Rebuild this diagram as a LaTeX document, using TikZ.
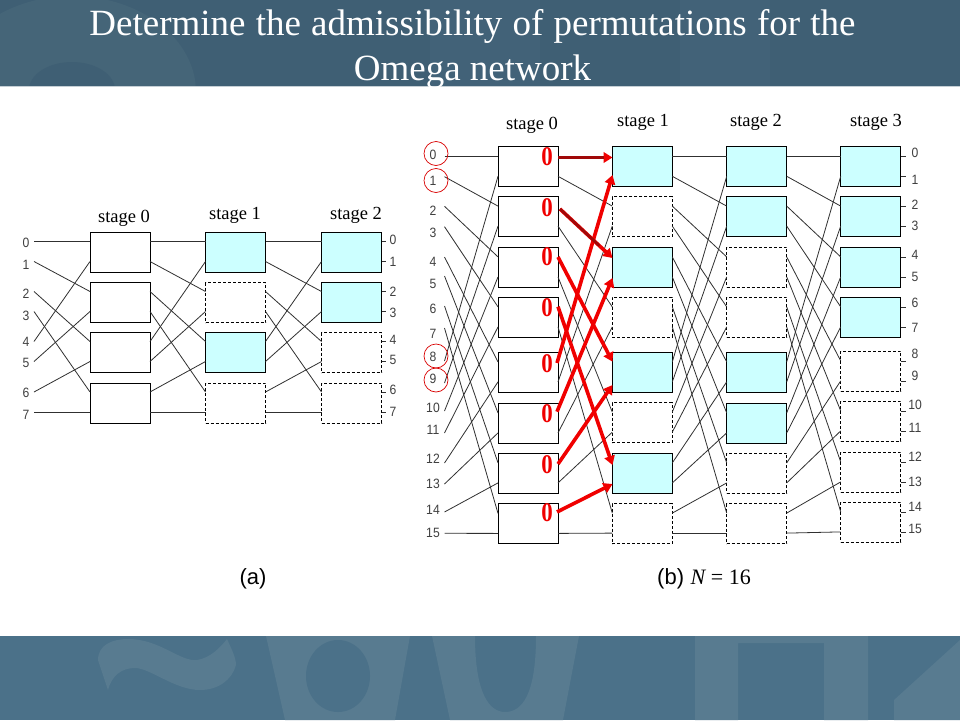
\documentclass[tikz,border=0pt]{standalone}
\usepackage{graphicx}
\usepackage{fontspec}
\setmainfont{Liberation Serif}
\newfontfamily\arialf{Liberation Sans}
\usetikzlibrary{arrows.meta,calc}
\definecolor{hdrbase}{HTML}{3F5F74}
\definecolor{hdrlight}{HTML}{456578}
\definecolor{hdrband}{HTML}{426278}
\definecolor{ftrbase}{HTML}{4B7189}
\definecolor{ftrlight}{HTML}{587B90}
\definecolor{cellcyan}{HTML}{CCFFFF}
\definecolor{wirecol}{HTML}{303030}
\definecolor{redarrow}{HTML}{F00000}
\definecolor{darkarrow}{HTML}{A00808}
\newcommand{\narrowtxt}[1]{\scalebox{0.9}[1]{#1}}
\newcommand{\zerotxt}{\scalebox{0.85}[1]{0}}
\tikzset{
  solidbox/.style={draw=black,line width=0.9pt,fill=white,minimum width=60pt,minimum height=40pt,inner sep=0pt,outer sep=0pt},
  cyanbox/.style={solidbox,fill=cellcyan},
  dashbox/.style={solidbox,dash pattern=on 3pt off 2pt},
  wire/.style={draw=wirecol,line width=0.8pt},
  numlabel/.style={font=\arialf\fontsize{13.5}{14}\selectfont,text=black!75,inner sep=0pt},
  stagelabel/.style={font=\fontsize{18.5}{19}\selectfont,text=black,inner sep=0pt,anchor=base},
  redarr/.style={draw=redarrow,line width=3.6pt,-{Triangle[length=9pt,width=10.5pt]}},
  darkarr/.style={draw=darkarrow,line width=2.6pt},
  redzero/.style={font=\bfseries\fontsize{27}{28}\selectfont,text=redarrow,inner sep=0pt},
  ringmark/.style={draw=red!85!black,line width=0.7pt,circle,minimum size=24pt,inner sep=0pt},
  titletext/.style={font=\fontsize{37}{37}\selectfont,text=white,inner sep=0pt,anchor=base},
  captext/.style={font=\arialf\fontsize{22}{22}\selectfont,text=black,inner sep=0pt}
}
\newcommand{\omegabox}[7]{%
  \node[#6,anchor=north west] (#1s#2b#3) at (#4,#5) {};
  \pgfmathtruncatemacro\porta{2*#3}%
  \pgfmathtruncatemacro\portb{2*#3+1}%
  \coordinate (#1s#2L\porta) at (#4,#5+#7);
  \coordinate (#1s#2L\portb) at (#4,#5+#7+20);
  \coordinate (#1s#2R\porta) at (#4+60,#5+#7);
  \coordinate (#1s#2R\portb) at (#4+60,#5+#7+20);
}
\begin{document}
\begin{tikzpicture}[x=1pt,y=-1pt]
\useasboundingbox (0,0) rectangle (960,720);
% slide background
\fill[white] (0,0) rectangle (960,720);
\begin{scope}
\clip (0,0) rectangle (960,86);
\fill[hdrbase] (0,0) rectangle (960,86);
\fill[hdrband] (430,0) rectangle (540,86);
\fill[hdrband] (680,0) rectangle (770,86);
\fill[hdrlight] (72,92) ellipse [x radius=124,y radius=96];
\fill[hdrbase] (72,90) ellipse [x radius=43,y radius=28];
\end{scope}
\begin{scope}
\clip (0,636) rectangle (960,720);
\fill[ftrbase] (0,636) rectangle (960,720);
\fill[ftrlight] (98,660) .. controls (98,645) and (112,639) .. (128,639) .. controls (160,639) and (180,662) .. (197,660) .. controls (210,658) and (220,648) .. (227,639) .. controls (232,650) and (236,658) .. (236,665) .. controls (232,680) and (218,690) .. (200,690) .. controls (175,690) and (150,668) .. (135,668) .. controls (122,668) and (112,675) .. (108,690) -- cycle;
\fill[ftrlight] (266,636) -- (410,636) -- (395,720) -- (285,720) -- cycle;
\fill[ftrbase] (338,676) ellipse [x radius=32,y radius=36];
\fill[ftrlight] (432,636) -- (475,636) .. controls (475,695) and (490,712) .. (505,712) .. controls (522,712) and (536,695) .. (536,636) -- (579,636) -- (563,720) -- (450,720) -- cycle;
\fill[ftrlight] (695,636) -- (868,636) -- (868,720) -- (824,720) -- (824,643) -- (738,643) -- (738,720) -- (695,720) -- cycle;
\fill[ftrlight] (894,720) -- (894,700) -- (960,640) -- (960,720) -- cycle;
\end{scope}
\draw[white!70!hdrbase,line width=0.6pt] (0,86) -- (960,86);
% title
\node[titletext] (title1) at (472.5,35) {\spaceskip=10.2pt Determine the admissibility of permutations for the};
\node[titletext] (title2) at (472.5,80) {Omega network};
% ---------- panel (a)
\foreach \b/\t in {0/232.5,1/282.5,2/332.5,3/383}{\omegabox{a}{0}{\b}{90}{\t}{solidbox}{9}}
\foreach \b/\t/\s in {0/232.5/cyanbox,1/282.5/dashbox,2/332.5/cyanbox,3/383/dashbox}{\omegabox{a}{1}{\b}{205.5}{\t}{\s}{9}}
\foreach \b/\t/\s in {0/232.5/cyanbox,1/282.5/cyanbox,2/332.5/dashbox,3/383/dashbox}{\omegabox{a}{2}{\b}{321.5}{\t}{\s}{9}}
\foreach \i/\ly/\py in {0/243/241.5,1/265/261.5,2/294/291.5,3/316/311.5,4/342/341.5,5/363/361.5,6/393/392,7/415/412}{
  \node[numlabel] (ain\i) at (26,\ly) {\narrowtxt{\i}};
  \coordinate (ainp\i) at (34,\py);
  \pgfmathtruncatemacro\j{\i==7?7:mod(2*\i,7)}
  \draw[wire] (ainp\i) -- (as0L\j);
}
\foreach \st/\nx in {0/1,1/2}{
  \foreach \i in {0,...,7}{
    \pgfmathtruncatemacro\j{\i==7?7:mod(2*\i,7)}
    \draw[wire] (as\st R\i) -- (as\nx L\j);
  }
}
\foreach \i/\ly in {0/240,1/262,2/292,3/313,4/340,5/360,6/390,7/412}{
  \node[numlabel] (aout\i) at (393,\ly) {\narrowtxt{\i}};
  \draw[wire] (as2R\i) -- ++(4.5,0) coordinate (aoutp\i);
}
\node[stagelabel] (astage0) at (124,222.5) {stage 0};
\node[stagelabel] (astage1) at (235,219.5) {stage 1};
\node[stagelabel] (astage2) at (356,219.5) {stage 2};
\node[captext] (capa) at (253,579) {(a)};
% ---------- panel (b)
\foreach \b/\t in {0/146.7,1/196.5,2/247.3,3/297.3,4/352.3,5/403.3,6/453.3,7/503.8}{\omegabox{b}{0}{\b}{498}{\t}{solidbox}{9.6}}
\foreach \b/\t/\s in {0/146.7/cyanbox,1/196.5/dashbox,2/247.3/cyanbox,3/297.3/dashbox,4/352.3/cyanbox,5/402.5/dashbox,6/453.3/cyanbox,7/503.5/dashbox}{\omegabox{b}{1}{\b}{612.3}{\t}{\s}{9.6}}
\foreach \b/\t/\s in {0/146.7/cyanbox,1/196.5/cyanbox,2/247.3/dashbox,3/297.3/dashbox,4/352.3/cyanbox,5/403.3/cyanbox,6/453.3/dashbox,7/503.5/dashbox}{\omegabox{b}{2}{\b}{726.7}{\t}{\s}{9.6}}
\foreach \b/\t/\s in {0/146.7/cyanbox,1/196.5/cyanbox,2/247.3/cyanbox,3/297.3/cyanbox,4/351.3/dashbox,5/401.3/dashbox,6/452.3/dashbox,7/502.3/dashbox}{\omegabox{b}{3}{\b}{840.7}{\t}{\s}{9.6}}
\foreach \i/\ly/\py in {0/155/156.3,1/181/176.7,2/211/206.3,3/233/226.7,4/262/257,5/284/276,6/309/306,7/334/328,8/357/361,9/379/383,10/408/411,11/430/433,12/459/463,13/484/484,14/510/512,15/533/533.3}{
  \node[numlabel] (bin\i) at (433,\ly) {\narrowtxt{\i}};
  \coordinate (binp\i) at (444.5,\py);
  \pgfmathtruncatemacro\j{\i==15?15:mod(2*\i,15)}
  \draw[wire] (binp\i) -- (bs0L\j);
}
\foreach \st/\nx in {0/1,1/2,2/3}{
  \foreach \i in {0,...,15}{
    \pgfmathtruncatemacro\j{\i==15?15:mod(2*\i,15)}
    \pgfmathtruncatemacro\skipit{(\st==0 && mod(\i,2)==0)?1:0}
    \ifnum\skipit=0
      \draw[wire] (bs\st R\i) -- (bs\nx L\j);
    \fi
  }
}
\foreach \i/\ly in {0/153,1/180,2/205,3/226,4/255,5/277,6/303,7/328,8/354,9/376,10/405,11/428,12/457,13/482,14/507,15/529}{
  \node[numlabel] (bout\i) at (915,\ly) {\narrowtxt{\i}};
  \draw[wire] (bs3R\i) -- ++(5,0) coordinate (boutp\i);
}
\foreach \n/\x/\y in {0/436/153.5,1/436/180.5,8/436/356,9/436/380}{
  \node[ringmark] (ring\n) at (\x,\y) {};
}
\node[stagelabel] (bstage0) at (532,129) {stage 0};
\node[stagelabel] (bstage1) at (643,126) {stage 1};
\node[stagelabel] (bstage2) at (756,126) {stage 2};
\node[stagelabel] (bstage3) at (876,126) {stage 3};
\node[captext,anchor=west] (capb) at (657,579) {(b)\hspace{0.3em}{\rmfamily\itshape N}\hspace{0.25em}{\rmfamily = 16}};
% red arrows
\foreach \n/\sx/\sy/\ex/\ey in {1/558/157.5/612.5/157.5,2/560/209/612.5/258,3/558/257/612.5/361.7,4/558/306.7/612.5/465,5/557/363/612.5/175,6/557/411.7/612.5/278,7/558/464/612.5/385,8/557/512/612.5/484}{
  \coordinate (ras\n) at (\sx,\sy);
  \coordinate (rae\n) at (\ex,\ey);
}
\foreach \n in {5,6,7,8,3,4,1,2}{\draw[redarr] (ras\n) -- (rae\n);}
\draw[darkarr] (ras1) -- ($(ras1)!0.85!(rae1)$);
\draw[darkarr] (ras2) -- ($(ras2)!0.75!(rae2)$);
\foreach \n/\y in {1/156.5,2/208,3/257,4/308,5/364,6/414,7/465,8/513}{
  \node[redzero] (zero\n) at (547,\y) {\zerotxt};
}
\end{tikzpicture}
\end{document}
